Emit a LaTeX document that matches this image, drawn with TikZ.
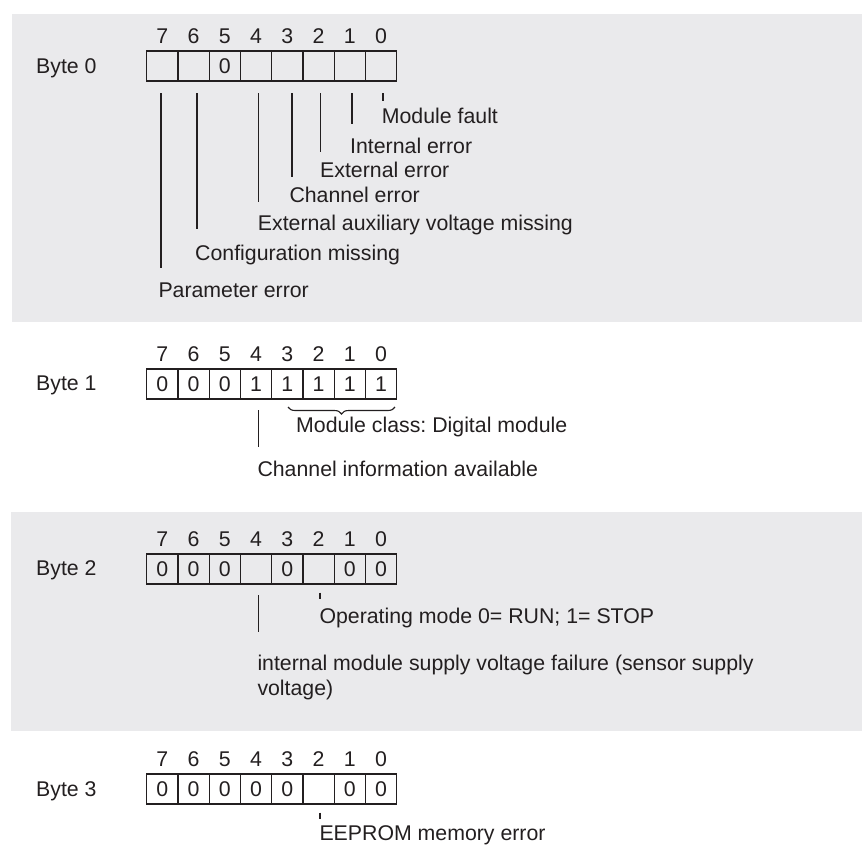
\documentclass[tikz,border=0pt]{standalone}
\usepackage{fontspec}
\setmainfont{Liberation Sans}
\usetikzlibrary{decorations.pathreplacing}
\definecolor{panel}{RGB}{234,234,236}
\definecolor{ink}{RGB}{35,31,32}
\frenchspacing
\begin{document}
\begin{tikzpicture}[x=1pt,y=-1pt,
  every node/.style={font=\fontsize{21.3}{25}\selectfont\frenchspacing, text=ink, inner sep=0pt},
  cell/.style={draw=ink, line width=1.3pt, minimum width=31.25pt, minimum height=30pt, anchor=center},
  bitnum/.style={anchor=base},
  lbl/.style={anchor=base west},
  lead/.style={draw=ink, line width=1.5pt},
  tickline/.style={draw=ink, line width=1.3pt}]
\useasboundingbox (0,0) rectangle (862,846);
\fill[panel] (12,14) rectangle (862,322);
\fill[panel] (11,512) rectangle (862,731);

% ---------- Byte 0 ----------
\node[lbl] (B0) at (36,73.5) {Byte 0};
\foreach \b/\v [count=\k from 0] in {7/,6/,5/0,4/,3/,2/,1/,0/} {
  \node[cell] (A\b) at ({146.7+31.25*(\k+0.5)},66) {\v};
  \node[bitnum] (nA\b) at ({146.7+31.25*(\k+0.5)},43.5) {\b};
}
\node[lbl] (LA0) at (381.7,123.5) {Module fault};
\node[lbl] (LA1) at (350,153.2) {Internal error};
\node[lbl] (LA2) at (320,177.5) {External error};
\node[lbl] (LA3) at (289.3,202.5) {Channel error};
\node[lbl] (LA4) at (257.7,230.2) {External auxiliary voltage missing};
\node[lbl] (LA6) at (195,260.8) {Configuration missing};
\node[lbl] (LA7) at (158.3,297.5) {Parameter error};
\coordinate (tA0) at (383,93);   \coordinate (eA0) at (383,100.7);
\coordinate (tA1) at (352,93);   \coordinate (eA1) at (352,124);
\coordinate (tA2) at (320.5,93); \coordinate (eA2) at (320.5,152);
\coordinate (tA3) at (292,93);   \coordinate (eA3) at (292,177);
\coordinate (tA4) at (258.3,93); \coordinate (eA4) at (258.3,202);
\coordinate (tA6) at (197,93);   \coordinate (eA6) at (197,229);
\coordinate (tA7) at (161,93);   \coordinate (eA7) at (161,268);
\draw[tickline] (tA0) -- (eA0);
\foreach \i in {1,2,3,4,6,7} { \draw[lead] (tA\i) -- (eA\i); }

% ---------- Byte 1 ----------
\node[lbl] (B1) at (36,390.5) {Byte 1};
\foreach \b/\v [count=\k from 0] in {7/0,6/0,5/0,4/1,3/1,2/1,1/1,0/1} {
  \node[cell] (C\b) at ({146.7+31.25*(\k+0.5)},384) {\v};
  \node[bitnum] (nC\b) at ({146.7+31.25*(\k+0.5)},361.5) {\b};
}
\coordinate (br1) at (288,407);
\coordinate (br2) at (395,407);
\draw[draw=ink, line width=1.1pt, decorate, decoration={brace, mirror, amplitude=7pt}] (br1) -- (br2);
\node[lbl] (LC0) at (296,432.5) {Module class: Digital module};
\node[lbl] (LC4) at (257.3,476.5) {Channel information available};
\coordinate (tC4) at (258.3,410); \coordinate (eC4) at (258.3,446.7);
\draw[lead] (tC4) -- (eC4);

% ---------- Byte 2 ----------
\node[lbl] (B2) at (36,575.5) {Byte 2};
\foreach \b/\v [count=\k from 0] in {7/0,6/0,5/0,4/,3/0,2/,1/0,0/0} {
  \node[cell] (D\b) at ({146.7+31.25*(\k+0.5)},569) {\v};
  \node[bitnum] (nD\b) at ({146.7+31.25*(\k+0.5)},546.5) {\b};
}
\node[lbl] (LD2) at (319.3,623.5) {Operating mode 0= RUN; 1= STOP};
\node[anchor=north west, align=left] (LD4) at (257.3,654.4) {internal module supply voltage failure (sensor supply\\voltage)};
\coordinate (tD2) at (320,592.7); \coordinate (eD2) at (320,599.3);
\coordinate (tD4) at (258.3,595); \coordinate (eD4) at (258.3,631.7);
\draw[tickline] (tD2) -- (eD2);
\draw[lead] (tD4) -- (eD4);

% ---------- Byte 3 ----------
\node[lbl] (B3) at (36,796.5) {Byte 3};
\foreach \b/\v [count=\k from 0] in {7/0,6/0,5/0,4/0,3/0,2/,1/0,0/0} {
  \node[cell] (E\b) at ({146.7+31.25*(\k+0.5)},789) {\v};
  \node[bitnum] (nE\b) at ({146.7+31.25*(\k+0.5)},766.5) {\b};
}
\node[lbl] (LE2) at (319.3,840.5) {EEPROM memory error};
\coordinate (tE2) at (320,812.7); \coordinate (eE2) at (320,819.3);
\draw[tickline] (tE2) -- (eE2);
\end{tikzpicture}
\end{document}
